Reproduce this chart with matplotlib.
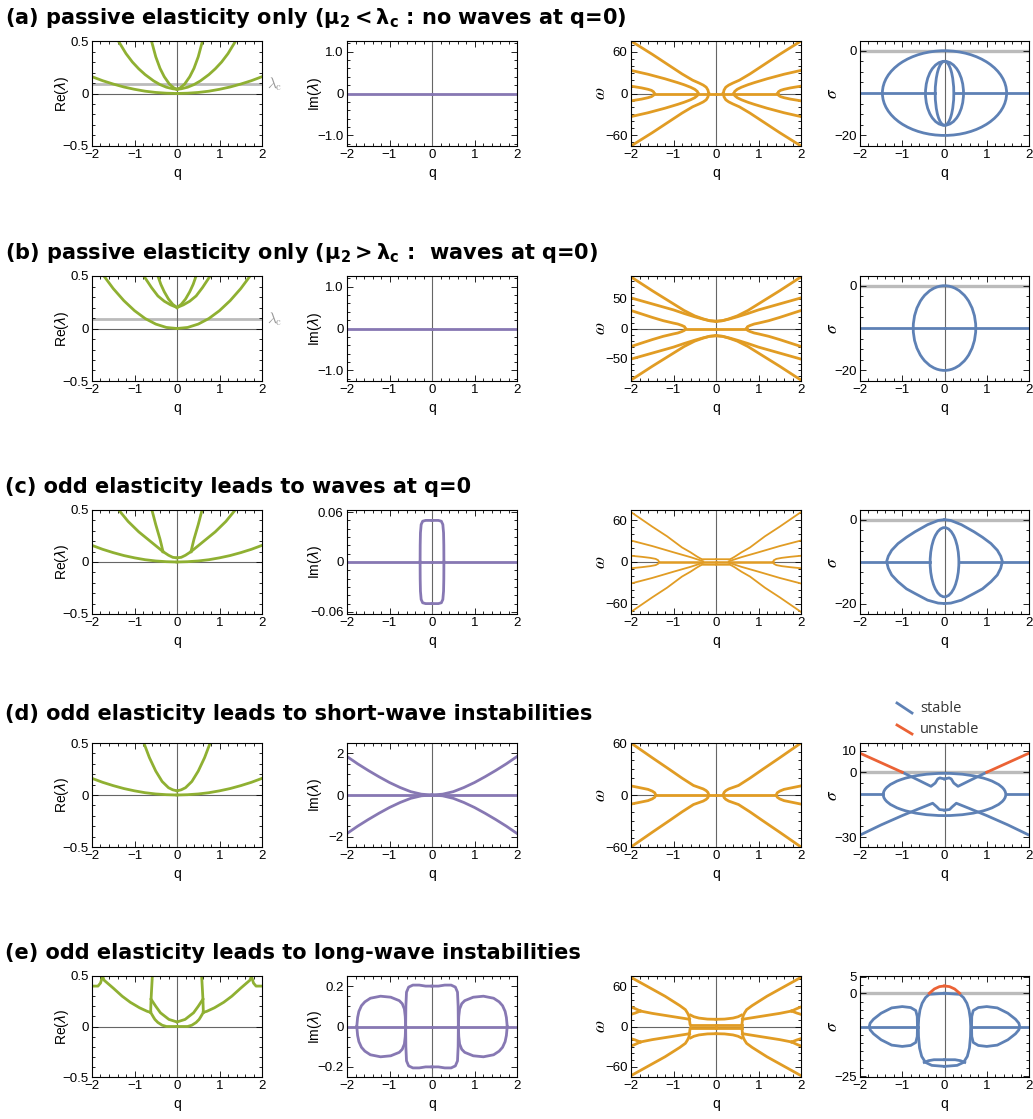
import matplotlib
matplotlib.use('Agg')
import numpy as np
import matplotlib.pyplot as plt
from matplotlib.lines import Line2D
from matplotlib.patches import Ellipse
from matplotlib.ticker import MultipleLocator

plt.rcParams['font.family'] = ['Liberation Sans', 'DejaVu Sans']
plt.rcParams['mathtext.fontset'] = 'custom'
plt.rcParams['mathtext.bf'] = 'DejaVu Sans:bold'
plt.rcParams['mathtext.rm'] = 'DejaVu Sans:bold'

GREEN = '#8FB032'
PURPLE = '#8778B3'
ORANGE = '#E19C24'
BLUE = '#5E81B5'
RED = '#EB6235'
LIGHT = '#BBBBBB'
AXIS = '#666666'

titles = [
    r'(a) passive elasticity only ($\mathbf{\mu_2 < \lambda_c}$ : no waves at q=0)',
    r'(b) passive elasticity only ($\mathbf{\mu_2 > \lambda_c}$ :  waves at q=0)',
    '(c) odd elasticity leads to waves at q=0',
    '(d) odd elasticity leads to short-wave instabilities',
    '(e) odd elasticity leads to long-wave instabilities',
]
lam_c = 0.09

# ---- Re(lambda), right half (q >= 0), mirrored when drawn
re_wide_q = [0, 0.25, 0.5, 0.75, 1.0, 1.25, 1.5, 1.75, 2.0]
re_wide = [0.0, 0.003, 0.01, 0.022, 0.04, 0.062, 0.09, 0.122, 0.16]

a_re_mid_q = [0, 0.1, 0.25, 0.4, 0.55, 0.75, 0.9, 1.05, 1.2, 1.38]
a_re_mid = [0.04, 0.045, 0.06, 0.085, 0.12, 0.18, 0.235, 0.3, 0.38, 0.5]
a_re_nar_q = [0, 0.08, 0.18, 0.3, 0.4, 0.5, 0.6]
a_re_nar = [0.04, 0.055, 0.09, 0.16, 0.24, 0.35, 0.5]

b_re_low_q = [0, 0.25, 0.5, 0.75, 1.0, 1.25, 1.5, 1.72]
b_re_low = [0.0, 0.01, 0.042, 0.095, 0.17, 0.265, 0.38, 0.5]
b_re_n1_q = [0, 0.1, 0.2, 0.3, 0.38, 0.45]
b_re_n1 = [0.2, 0.23, 0.28, 0.35, 0.42, 0.5]
b_re_n2_q = [0, 0.15, 0.3, 0.45, 0.6, 0.78]
b_re_n2 = [0.2, 0.225, 0.26, 0.31, 0.39, 0.5]

c_re_mid_q = [0.33, 0.45, 0.63, 0.9, 1.15, 1.37]
c_re_mid = [0.1, 0.14, 0.2, 0.29, 0.39, 0.5]
c_re_nar_q = [0.33, 0.37, 0.4, 0.5, 0.59]
c_re_nar = [0.1, 0.17, 0.22, 0.36, 0.5]
c_re_cen_q = [0, 0.1, 0.2, 0.33]
c_re_cen = [0.04, 0.045, 0.065, 0.1]

d_re_nar_q = [0, 0.1, 0.2, 0.35, 0.5, 0.65, 0.78]
d_re_nar = [0.04, 0.05, 0.07, 0.13, 0.23, 0.36, 0.5]

e_re_edge_q = [2.0, 1.86, 1.8, 1.75]
e_re_edge = [0.40, 0.40, 0.43, 0.5]
e_re_arc_q = [1.75, 1.72, 1.5, 1.29, 1.1, 0.88, 0.7, 0.62]
e_re_arc = [0.5, 0.46, 0.38, 0.30, 0.24, 0.185, 0.15, 0.14]
e_re_vert_q = [0.58, 0.6, 0.61, 0.62]
e_re_vert = [0.5, 0.35, 0.27, 0.14]
e_re_cup_q = [0.61, 0.5, 0.39, 0.19, 0]
e_re_cup = [0.27, 0.2, 0.136, 0.07, 0.045]
e_re_flat_q = [0.62, 0.55, 0.52, 0.45, 0.35, 0.25, 0]
e_re_flat = [0.14, 0.09, 0.07, 0.04, 0.013, 0.0, 0.0]

# ---- Im(lambda)
c_im_q = [0, 0.15, 0.22, 0.255, 0.272, 0.278, 0.28]
c_im = [0.05, 0.05, 0.049, 0.045, 0.035, 0.02, 0.0]

d_im_q = [0, 0.25, 0.5, 0.75, 1.0, 1.25, 1.5, 1.75, 2.0]
d_im = [0.0, 0.04, 0.16, 0.36, 0.6, 0.88, 1.18, 1.5, 1.85]

e_im_cen_q = [0, 0.15, 0.3, 0.45, 0.55, 0.6, 0.615, 0.62]
e_im_cen = [0.2, 0.2, 0.205, 0.205, 0.195, 0.17, 0.1, 0.0]
e_im_lobe_q = [0.62, 0.63, 0.65, 0.7, 0.77, 0.97, 1.21, 1.45, 1.58, 1.66, 1.72, 1.75, 1.77]
e_im_lobe = [0.0, 0.05, 0.087, 0.113, 0.128, 0.145, 0.15, 0.14, 0.122, 0.103, 0.075, 0.045, 0.0]

# ---- omega (q >= 0, omega >= 0), mirrored in both q and omega
a_w_out_q = [0.17, 0.19, 0.23, 0.3, 0.4, 0.55, 0.8, 1.1, 1.5, 2.0]
a_w_out = [0, 5, 9, 12, 15, 19, 28, 40, 56, 75]
a_w_mid_q = [0.42, 0.44, 0.5, 0.6, 0.75, 0.9, 1.2, 1.6, 2.0]
a_w_mid = [0, 3, 6, 9, 12.5, 15.5, 21, 27.5, 33]
a_w_tip_q = [1.45, 1.47, 1.52, 1.6, 1.75, 2.0]
a_w_tip = [0, 2.5, 4.5, 6, 8, 10.5]

b_w_out_q = [0, 0.15, 0.3, 0.5, 0.75, 1.0, 1.5, 2.0]
b_w_out = [12, 13, 16, 21, 30, 41, 63, 86]
b_w_mid_q = [0, 0.15, 0.3, 0.5, 0.75, 1.0, 1.5, 2.0]
b_w_mid = [12, 13, 15.5, 19.5, 25, 31, 41, 51]
b_w_tip_q = [0.72, 0.74, 0.8, 0.9, 1.0, 1.24, 1.5, 2.0]
b_w_tip = [0, 3, 5, 7.5, 9, 13, 18.5, 30]

c_w_out_q = [0, 0.33, 0.38, 0.45, 0.6, 0.8, 1.15, 1.5, 2.0]
c_w_out = [4, 4, 5.5, 8, 14, 21, 37, 51, 72]
c_w_mid_q = [0.3, 0.4, 0.6, 1.0, 1.5, 2.0]
c_w_mid = [1, 3, 7, 14, 23, 31]
c_w_tip_q = [1.34, 1.36, 1.42, 1.55, 1.75, 2.0]
c_w_tip = [0, 2.5, 4.5, 6, 7.5, 9]

d_w_out_q = [0.17, 0.19, 0.23, 0.3, 0.53, 0.8, 1.08, 1.5, 2.0]
d_w_out = [0, 3, 5, 7, 11, 19.5, 29, 43, 60]
d_w_tip_q = [1.42, 1.44, 1.5, 1.6, 1.8, 2.0]
d_w_tip = [0, 2.5, 4.5, 6.5, 8.5, 10.5]

e_w_out_q = [0.6, 0.61, 0.62, 0.625, 0.64, 0.67, 0.72, 0.85, 1.2, 1.6, 2.0]
e_w_out = [2, 3, 8, 12, 16, 20, 25, 31, 45, 59, 73]
e_w_cen_q = [0, 0.2, 0.4, 0.52, 0.6]
e_w_cen = [10.7, 11, 12.5, 14.5, 17]
e_w_mid_q = [0.62, 0.7, 0.9, 1.2, 1.5, 1.78]
e_w_mid = [10.5, 11.5, 13.5, 16.5, 19.5, 23]
e_w_fork_q = [1.78, 1.9, 2.0]
e_w_fork_hi = [23, 26.5, 29]
e_w_fork_lo = [23, 20, 18]
e_w_band_q = [0, 0.6]
e_w_band = [2, 2]

# ---- sigma
a_ell_c = [-10, -10.05, -10.05]
a_ell_w = [1.47, 0.45, 0.22]
a_ell_h = [10, 7.55, 7.55]
a_flat_q = [0.22, 2.0]

b_ell_c = [-10]
b_ell_w = [0.74]
b_ell_h = [10]
b_flat_q = [0, 2.0]

c_egg_q = [0, 0.15, 0.4, 0.7, 0.9, 1.1, 1.25, 1.33, 1.37, 1.33, 1.25, 1.1, 0.9, 0.7, 0.4, 0.15, 0]
c_egg = [0, -0.2, -1.2, -2.9, -4.2, -5.7, -7.3, -8.7, -10, -11.6, -13.2, -14.8, -16.5, -17.6, -19.2, -19.9, -20]
c_ell_c = [-10.15]
c_ell_w = [0.34]
c_ell_h = [8.25]
c_flat_q = [0.34, 2.0]

d_ell_c = [-10.25]
d_ell_w = [1.45]
d_ell_h = [9.75]
d_flat_q = [1.45, 2.0]
d_up_q = [0, 0.11, 0.16, 0.22, 0.32, 0.6, 1.0]
d_up = [-3.1, -2.6, -3.1, -5, -6.5, -3.8, 0]
d_red_q = [1.0, 1.5, 2.0]
d_red = [0, 4.4, 8.8]
d_lo_q = [0, 0.12, 0.18, 0.28, 0.6, 1.0, 1.5, 2.0]
d_lo = [-17.5, -17.2, -16, -14.3, -16.8, -20, -24.3, -29]

e_red_q = [0, 0.12, 0.24, 0.36]
e_red = [2.2, 2.0, 1.3, 0]
e_blob_q = [0, 0.36, 0.45, 0.53, 0.58, 0.61, 0.62, 0.615, 0.59, 0.54, 0.45, 0.3, 0]
e_blob = [0, -0.3, -1.3, -3, -5, -7.5, -10, -13, -16.5, -19, -20.8, -21.7, -22]
e_chord_q = [0, 0.25, 0.38, 0.48]
e_chord = [-20, -20, -20.3, -20.8]
e_lobe_q = [0.64, 0.645, 0.68, 0.8, 1.0, 1.25, 1.5, 1.68, 1.76, 1.78, 1.76, 1.68, 1.5, 1.25, 1.0, 0.8, 0.68, 0.645, 0.64]
e_lobe = [-10, -7, -5.2, -4.3, -4, -4.4, -6, -7.8, -9, -10, -11, -12.2, -14, -15.6, -16, -15.7, -14.8, -13, -10]
e_flat_q = [0.62, 2.0]

W, H = 1033, 1119
COLS = [(92, 262), (347, 517), (631, 801), (860, 1029)]
ROWS = [(41, 146), (276, 381), (510, 614), (743, 847), (976, 1077)]
TITLE_Y = [18, 253, 487, 714, 953]
YLAB_X = [-0.125, -0.135, -0.135, -0.118]

fig = plt.figure(figsize=(W / 100, H / 100), dpi=100)


def px_axes(col, row):
    l, r = COLS[col]
    t, b = ROWS[row]
    return fig.add_axes([l / W, 1 - b / H, (r - l) / W, (b - t) / H])


def frame(ax, ylim, ticks, labels, minor, ylabel, mathfam='dejavusans', lsize=10, hzero=True):
    ax.set_xlim(-2, 2)
    ax.set_ylim(*ylim)
    ax.set_xticks([-2, -1, 0, 1, 2])
    ax.set_xticklabels(['\u22122', '\u22121', '0', '1', '2'])
    ax.xaxis.set_minor_locator(MultipleLocator(0.2))
    ax.set_yticks(ticks)
    ax.set_yticklabels(labels)
    ax.yaxis.set_minor_locator(MultipleLocator(minor))
    ax.tick_params(which='both', direction='in', top=True, right=True,
                   width=0.6, labelsize=9.5, pad=2.5)
    ax.tick_params(which='major', length=4)
    ax.tick_params(which='minor', length=2)
    for sp in ax.spines.values():
        sp.set_linewidth(0.8)
    if hzero:
        ax.axhline(0, color=AXIS, lw=0.8, zorder=1)
    ax.axvline(0, color=AXIS, lw=0.8, zorder=1.8)
    ax.set_xlabel('q', fontsize=10, labelpad=3)
    ax.set_ylabel(ylabel, fontsize=lsize, math_fontfamily=mathfam, labelpad=2)


def both(ax, q, y, color, lw=2.0, flip=False):
    q = np.asarray(q, float)
    y = np.asarray(y, float)
    for s in (1, -1):
        ax.plot(s * q, y, color=color, lw=lw, zorder=2)
        if flip:
            ax.plot(s * q, -y, color=color, lw=lw, zorder=2)


def ellipses(ax, cs, ws, hs):
    for c, w, h in zip(cs, ws, hs):
        ax.add_patch(Ellipse((0, c), 2 * w, 2 * h, fill=False, ec=BLUE, lw=2.0, zorder=2))


def flat(ax, q, v, color, lw=2.0):
    both(ax, q, [v, v], color, lw)


axs = [[px_axes(c, r) for c in range(4)] for r in range(5)]

re_ticks = ([-0.5, 0, 0.5], ['\u22120.5', '0', '0.5'])
for r in range(5):
    frame(axs[r][0], (-0.5, 0.5), *re_ticks, 0.1, r'Re($\lambda$)')

# Re(lambda) column
for r in (0, 1):
    ax = axs[r][0]
    ax.axhline(lam_c, color=LIGHT, lw=2.0, zorder=1.5)
    ax.text(1.03, lam_c, r'$\lambda_{\rm c}$', transform=ax.get_yaxis_transform(),
            color='#999999', fontsize=11, va='center', math_fontfamily='cm')

ax = axs[0][0]
both(ax, re_wide_q, re_wide, GREEN)
both(ax, a_re_mid_q, a_re_mid, GREEN)
both(ax, a_re_nar_q, a_re_nar, GREEN)

ax = axs[1][0]
both(ax, b_re_low_q, b_re_low, GREEN)
both(ax, b_re_n1_q, b_re_n1, GREEN)
both(ax, b_re_n2_q, b_re_n2, GREEN)

ax = axs[2][0]
both(ax, re_wide_q, re_wide, GREEN)
both(ax, c_re_mid_q, c_re_mid, GREEN)
both(ax, c_re_nar_q, c_re_nar, GREEN)
both(ax, c_re_cen_q, c_re_cen, GREEN)

ax = axs[3][0]
both(ax, re_wide_q, re_wide, GREEN)
both(ax, d_re_nar_q, d_re_nar, GREEN)

ax = axs[4][0]
for q, v in [(e_re_edge_q, e_re_edge), (e_re_arc_q, e_re_arc), (e_re_vert_q, e_re_vert),
             (e_re_cup_q, e_re_cup), (e_re_flat_q, e_re_flat)]:
    both(ax, q, v, GREEN)

# Im(lambda) column
frame(axs[0][1], (-1.25, 1.25), [-1, 0, 1], ['\u22121.0', '0', '1.0'], 0.2, r'Im($\lambda$)')
frame(axs[1][1], (-1.25, 1.25), [-1, 0, 1], ['\u22121.0', '0', '1.0'], 0.2, r'Im($\lambda$)')
frame(axs[2][1], (-0.0625, 0.0625), [-0.06, 0, 0.06], ['\u22120.06', '0', '0.06'], 0.01, r'Im($\lambda$)')
frame(axs[3][1], (-2.5, 2.5), [-2, 0, 2], ['\u22122', '0', '2'], 0.5, r'Im($\lambda$)')
frame(axs[4][1], (-0.25, 0.25), [-0.2, 0, 0.2], ['\u22120.2', '0', '0.2'], 0.05, r'Im($\lambda$)')
for r in range(5):
    flat(axs[r][1], [0, 2], 0, PURPLE)
both(axs[2][1], c_im_q, c_im, PURPLE, flip=True)
both(axs[3][1], d_im_q, d_im, PURPLE, flip=True)
both(axs[4][1], e_im_cen_q, e_im_cen, PURPLE, flip=True)
both(axs[4][1], e_im_lobe_q, e_im_lobe, PURPLE, flip=True)

# omega column
w60 = ([-60, 0, 60], ['\u221260', '0', '60'])
wl = dict(mathfam='stix', lsize=12.5)
frame(axs[0][2], (-75, 75), *w60, 10, r'$\omega$', **wl)
frame(axs[1][2], (-87.5, 87.5), [-50, 0, 50], ['\u221250', '0', '50'], 10, r'$\omega$', **wl)
frame(axs[2][2], (-75, 75), *w60, 10, r'$\omega$', **wl)
frame(axs[3][2], (-60, 60), *w60, 10, r'$\omega$', **wl)
frame(axs[4][2], (-75, 75), *w60, 10, r'$\omega$', **wl)

ax = axs[0][2]
for q, v in [(a_w_out_q, a_w_out), (a_w_mid_q, a_w_mid), (a_w_tip_q, a_w_tip)]:
    both(ax, q, v, ORANGE, flip=True)
flat(ax, [0, a_w_tip_q[0]], 0, ORANGE)

ax = axs[1][2]
for q, v in [(b_w_out_q, b_w_out), (b_w_mid_q, b_w_mid), (b_w_tip_q, b_w_tip)]:
    both(ax, q, v, ORANGE, flip=True)
flat(ax, [0, b_w_tip_q[0]], 0, ORANGE)

ax = axs[2][2]
for q, v in [(c_w_out_q, c_w_out), (c_w_mid_q, c_w_mid), (c_w_tip_q, c_w_tip)]:
    both(ax, q, v, ORANGE, lw=1.3, flip=True)
flat(ax, [0, c_w_tip_q[0]], 0, ORANGE, lw=1.8)

ax = axs[3][2]
for q, v in [(d_w_out_q, d_w_out), (d_w_tip_q, d_w_tip)]:
    both(ax, q, v, ORANGE, flip=True)
flat(ax, [0, d_w_tip_q[0]], 0, ORANGE)

ax = axs[4][2]
for q, v in [(e_w_out_q, e_w_out), (e_w_cen_q, e_w_cen), (e_w_mid_q, e_w_mid),
             (e_w_fork_q, e_w_fork_hi), (e_w_fork_q, e_w_fork_lo), (e_w_band_q, e_w_band)]:
    both(ax, q, v, ORANGE, flip=True)

# sigma column
s20 = ([-20, 0], ['\u221220', '0'])
sl = dict(mathfam='stix', lsize=12.5, hzero=False)
frame(axs[0][3], (-22.5, 2.3), *s20, 2.5, r'$\sigma$', **sl)
frame(axs[1][3], (-22.5, 2.3), *s20, 2.5, r'$\sigma$', **sl)
frame(axs[2][3], (-22.5, 2.3), *s20, 2.5, r'$\sigma$', **sl)
frame(axs[3][3], (-34.5, 13.5), [-30, 0, 10], ['\u221230', '0', '10'], 5, r'$\sigma$', **sl)
frame(axs[4][3], (-25.2, 5.2), [-25, 0, 5], ['\u221225', '0', '5'], 2.5, r'$\sigma$', **sl)
for r in range(5):
    axs[r][3].axhline(0, color=LIGHT, lw=2.4, zorder=1.5)

ax = axs[0][3]
ellipses(ax, a_ell_c, a_ell_w, a_ell_h)
flat(ax, a_flat_q, -10, BLUE)

ax = axs[1][3]
ellipses(ax, b_ell_c, b_ell_w, b_ell_h)
flat(ax, b_flat_q, -10, BLUE)

ax = axs[2][3]
both(ax, c_egg_q, c_egg, BLUE)
ellipses(ax, c_ell_c, c_ell_w, c_ell_h)
flat(ax, c_flat_q, -10, BLUE)

ax = axs[3][3]
ellipses(ax, d_ell_c, d_ell_w, d_ell_h)
flat(ax, d_flat_q, -10, BLUE)
both(ax, d_up_q, d_up, BLUE)
both(ax, d_lo_q, d_lo, BLUE)
both(ax, d_red_q, d_red, RED)

ax = axs[4][3]
both(ax, e_blob_q, e_blob, BLUE)
both(ax, e_chord_q, e_chord, BLUE)
both(ax, e_lobe_q, e_lobe, BLUE)
flat(ax, e_flat_q, -10, BLUE)
both(ax, e_red_q, e_red, RED)

for r in range(5):
    for c in range(4):
        axs[r][c].yaxis.set_label_coords(YLAB_X[c], 0.5)

for t, y in zip(titles, TITLE_Y):
    fig.text(5 / W, 1 - y / H, t, fontsize=15, fontweight='bold', family='DejaVu Sans',
             va='center', ha='left', math_fontfamily='custom')

# stability legend above the sigma panel of row (d)
for (y0, y1), col, lab in [((703, 713), BLUE, 'stable'), ((725, 734), RED, 'unstable')]:
    fig.add_artist(Line2D([897 / W, 912 / W], [1 - y0 / H, 1 - y1 / H], color=col, lw=2.0))
    fig.text(920 / W, 1 - (y0 + y1) / 2 / H, lab, fontsize=10.5, family='Open Sans',
             color='#333333', va='center')

fig.savefig('out.png', dpi=100)
